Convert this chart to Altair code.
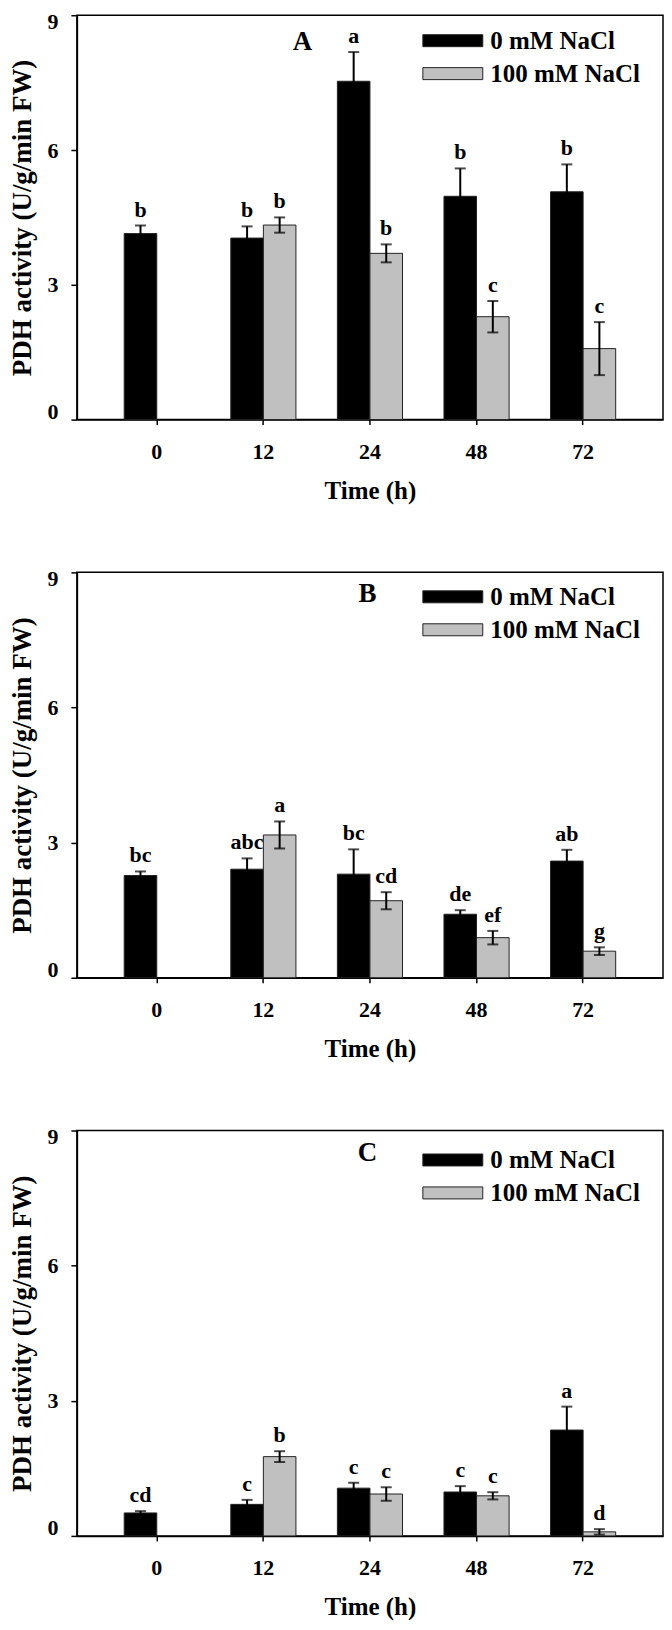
import altair as alt
import pandas as pd

FONT = "Liberation Serif"

times = ["0", "12", "24", "48", "72"]
series = ["0 mM NaCl", "100 mM NaCl"]

# Panel A
a_ctrl = [4.14, 4.04, 7.53, 4.97, 5.07]
a_ctrl_err = [0.18, 0.26, 0.65, 0.62, 0.61]
a_ctrl_lbl = ["b", "b", "a", "b", "b"]
a_salt = [None, 4.33, 3.70, 2.29, 1.58]
a_salt_err = [None, 0.17, 0.20, 0.35, 0.59]
a_salt_lbl = [None, "b", "b", "c", "c"]

# Panel B
b_ctrl = [2.27, 2.41, 2.30, 1.41, 2.59]
b_ctrl_err = [0.09, 0.24, 0.55, 0.09, 0.25]
b_ctrl_lbl = ["bc", "abc", "bc", "de", "ab"]
b_salt = [None, 3.17, 1.71, 0.89, 0.59]
b_salt_err = [None, 0.30, 0.19, 0.15, 0.085]
b_salt_lbl = [None, "a", "cd", "ef", "g"]

# Panel C
c_ctrl = [0.51, 0.70, 1.06, 0.975, 2.35]
c_ctrl_err = [0.04, 0.10, 0.12, 0.13, 0.52]
c_ctrl_lbl = ["cd", "c", "c", "c", "a"]
c_salt = [None, 1.76, 0.93, 0.89, 0.09]
c_salt_err = [None, 0.12, 0.15, 0.08, 0.06]
c_salt_lbl = [None, "b", "c", "c", "d"]

panel_letters = ["A", "B", "C"]


def make_df(ctrl, ctrl_err, ctrl_lbl, salt, salt_err, salt_lbl):
    rows = []
    for i, t in enumerate(times):
        for s, m, e, l in ((series[0], ctrl, ctrl_err, ctrl_lbl),
                           (series[1], salt, salt_err, salt_lbl)):
            if m[i] is None:
                continue
            rows.append({"time": t, "series": s, "mean": m[i], "err": e[i],
                         "lo": m[i] - e[i], "hi": m[i] + e[i], "lbl": l[i]})
    return pd.DataFrame(rows)


x_enc = alt.X("time:N", sort=times,
              scale=alt.Scale(paddingInner=0.389, paddingOuter=0.444),
              axis=alt.Axis(title="Time (h)", labelAngle=0, tickSize=5,
                            labelPadding=17, titlePadding=16,
                            labelFont=FONT, titleFont=FONT,
                            labelFontWeight="bold", titleFontWeight="bold",
                            labelFontSize=22, titleFontSize=25))
xo_enc = alt.XOffset("series:N", sort=series,
                     scale=alt.Scale(domain=series, paddingInner=0, paddingOuter=0))
y_scale = alt.Scale(domain=[0, 9], nice=False)
y_axis = alt.Axis(title="PDH activity (U/g/min FW)", values=[0, 3, 6, 9],
                  tickSize=6, labelPadding=13, titlePadding=10,
                  labelFlush=True, labelFlushOffset=4,
                  labelFont=FONT, titleFont=FONT,
                  labelFontWeight="bold", titleFontWeight="bold",
                  labelFontSize=22, titleFontSize=27, grid=False)


def panel(df, letter, lx, ly, legy, h):
    base = alt.Chart(df)
    bars = base.mark_bar(stroke="#222222", strokeWidth=1).encode(
        x=x_enc,
        xOffset=xo_enc,
        y=alt.Y("mean:Q", scale=y_scale, axis=y_axis),
        color=alt.Color("series:N", sort=series,
                        scale=alt.Scale(domain=series, range=["#000000", "#c0c0c0"]),
                        legend=alt.Legend(title=None, orient="none",
                                          legendX=364, legendY=legy,
                                          symbolType="M-5,-1H5V1H-5Z",
                                          symbolSize=144,
                                          symbolStrokeColor="#222222",
                                          symbolStrokeWidth=1,
                                          labelFontSize=25, labelFont=FONT,
                                          labelFontWeight="bold",
                                          labelOffset=25, rowPadding=7,
                                          labelColor="black")),
    )
    rules = base.mark_rule(color="black", strokeWidth=2).encode(
        x=alt.X("time:N", sort=times), xOffset=xo_enc,
        y=alt.Y("lo:Q", scale=y_scale), y2="hi:Q")
    caps_hi = base.mark_tick(color="black", thickness=2, size=11).encode(
        x=alt.X("time:N", sort=times), xOffset=xo_enc,
        y=alt.Y("hi:Q", scale=y_scale))
    caps_lo = base.mark_tick(color="black", thickness=2, size=11).encode(
        x=alt.X("time:N", sort=times), xOffset=xo_enc,
        y=alt.Y("lo:Q", scale=y_scale))
    labels = base.mark_text(font=FONT, fontWeight="bold", fontSize=22,
                            baseline="alphabetic", dy=-9, color="black").encode(
        x=alt.X("time:N", sort=times), xOffset=xo_enc,
        y=alt.Y("hi:Q", scale=y_scale), text="lbl:N")
    tag = alt.Chart(pd.DataFrame({"t": [letter]})).mark_text(
        font=FONT, fontWeight="bold", fontSize=27, color="black",
        baseline="middle", align="center").encode(
        x=alt.value(lx), y=alt.value(ly), text="t:N")
    return alt.layer(bars, rules, caps_hi, caps_lo, labels, tag).properties(
        width=587, height=h)


pA = panel(make_df(a_ctrl, a_ctrl_err, a_ctrl_lbl, a_salt, a_salt_err, a_salt_lbl),
           panel_letters[0], 226, 27, 13, 405)
pB = panel(make_df(b_ctrl, b_ctrl_err, b_ctrl_lbl, b_salt, b_salt_err, b_salt_lbl),
           panel_letters[1], 291, 22, 12, 406)
pC = panel(make_df(c_ctrl, c_ctrl_err, c_ctrl_lbl, c_salt, c_salt_err, c_salt_lbl),
           panel_letters[2], 291, 23, 17, 406)

chart = alt.vconcat(pA, pB, pC, spacing=62).resolve_legend(
    color="independent"
).configure(
    padding=0, background="white"
).configure_view(
    stroke="black", strokeWidth=1.5
).configure_axis(
    domainColor="black", domainWidth=1.5, tickColor="black", tickWidth=1.5,
    labelColor="black", titleColor="black",
    labelFont=FONT, titleFont=FONT, labelFontWeight="bold", titleFontWeight="bold"
)

chart.save("out.html", embed_options={"renderer": "svg", "actions": False})
